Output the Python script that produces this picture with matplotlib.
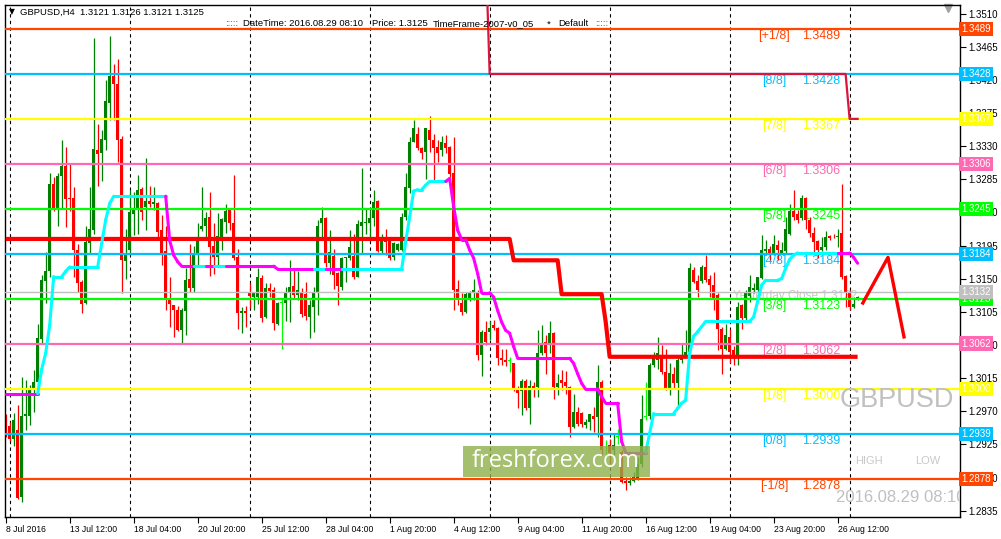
import matplotlib
matplotlib.use('Agg')
import matplotlib.pyplot as plt
import matplotlib.transforms as mtransforms
from matplotlib.collections import LineCollection
from matplotlib.patches import Rectangle
import numpy as np

# GBPUSD H4 candles, 8 Jul 2016 20:00 .. 29 Aug 2016 08:00
opens = [1.2960, 1.2950, 1.2932, 1.2944, 1.2853, 1.2963, 1.2963, 1.2999, 1.3010, 1.3068,
         1.3147, 1.3161, 1.3279, 1.3245, 1.3290, 1.3303, 1.3260, 1.3259, 1.3189, 1.3146,
         1.3117, 1.3198, 1.3216, 1.3325, 1.3320, 1.3338, 1.3389, 1.3425, 1.3414, 1.3340,
         1.3174, 1.3189, 1.3238, 1.3243, 1.3272, 1.3248, 1.3255, 1.3252, 1.3253, 1.3216,
         1.3187, 1.3121, 1.3114, 1.3108, 1.3081, 1.3106, 1.3149, 1.3137, 1.3182, 1.3217,
         1.3222, 1.3234, 1.3194, 1.3180, 1.3207, 1.3227, 1.3243, 1.3226, 1.3179, 1.3103,
         1.3106, 1.3132, 1.3125, 1.3125, 1.3151, 1.3098, 1.3138, 1.3135, 1.3088, 1.3117,
         1.3117, 1.3131, 1.3140, 1.3128, 1.3130, 1.3129, 1.3098, 1.3112, 1.3130, 1.3226,
         1.3232, 1.3172, 1.3181, 1.3158, 1.3139, 1.3178, 1.3178, 1.3181, 1.3153, 1.3221,
         1.3225, 1.3225, 1.3232, 1.3255, 1.3187, 1.3203, 1.3201, 1.3179, 1.3189, 1.3189,
         1.3234, 1.3273, 1.3335, 1.3347, 1.3327, 1.3322, 1.3352, 1.3339, 1.3329, 1.3325,
         1.3334, 1.3329, 1.3293, 1.3136, 1.3117, 1.3105, 1.3123, 1.3130, 1.3132, 1.3047,
         1.3077, 1.3077, 1.3087, 1.3083, 1.3043, 1.3040, 1.3038, 1.3035, 1.3000, 1.2998,
         1.3011, 1.2974, 1.3005, 1.3003, 1.3049, 1.3064, 1.3062, 1.3076, 1.3003, 1.3012,
         1.3010, 1.3003, 1.2949, 1.2969, 1.2968, 1.2951, 1.2956, 1.2963, 1.2962, 1.3010,
         1.2917, 1.2924, 1.2917, 1.2935, 1.2915, 1.2876, 1.2873, 1.2876, 1.2879, 1.2899,
         1.2962, 1.2963, 1.3033, 1.3040, 1.3047, 1.3024, 1.3002, 1.3020, 1.3009, 1.3039,
         1.3046, 1.3050, 1.3162, 1.3147, 1.3147, 1.3166, 1.3149, 1.3141, 1.3128, 1.3082,
         1.3055, 1.3071, 1.3053, 1.3046, 1.3114, 1.3096, 1.3126, 1.3135, 1.3135, 1.3151,
         1.3187, 1.3190, 1.3185, 1.3196, 1.3185, 1.3187, 1.3211, 1.3242, 1.3238, 1.3232,
         1.3259, 1.3230, 1.3212, 1.3201, 1.3189, 1.3193, 1.3208, 1.3207, 1.3206, 1.3212,
         1.3154, 1.3132, 1.3112, 1.3121]
highs = [1.2966, 1.2956, 1.2968, 1.2978, 1.3017, 1.3012, 1.3006, 1.3026, 1.3089, 1.3155,
         1.3186, 1.3293, 1.3288, 1.3293, 1.3338, 1.3329, 1.3306, 1.3274, 1.3197, 1.3148,
         1.3221, 1.3275, 1.3477, 1.3360, 1.3352, 1.3420, 1.3480, 1.3442, 1.3448, 1.3344,
         1.3218, 1.3270, 1.3268, 1.3291, 1.3275, 1.3314, 1.3276, 1.3275, 1.3254, 1.3236,
         1.3221, 1.3153, 1.3114, 1.3113, 1.3110, 1.3164, 1.3197, 1.3194, 1.3226, 1.3275,
         1.3240, 1.3268, 1.3226, 1.3239, 1.3232, 1.3252, 1.3245, 1.3291, 1.3190, 1.3112,
         1.3113, 1.3144, 1.3132, 1.3164, 1.3155, 1.3144, 1.3144, 1.3139, 1.3119, 1.3122,
         1.3139, 1.3176, 1.3164, 1.3161, 1.3137, 1.3146, 1.3121, 1.3139, 1.3230, 1.3247,
         1.3234, 1.3216, 1.3190, 1.3159, 1.3179, 1.3180, 1.3216, 1.3211, 1.3230, 1.3300,
         1.3244, 1.3243, 1.3270, 1.3257, 1.3211, 1.3217, 1.3205, 1.3200, 1.3199, 1.3239,
         1.3293, 1.3343, 1.3365, 1.3356, 1.3329, 1.3355, 1.3371, 1.3347, 1.3338, 1.3344,
         1.3345, 1.3330, 1.3343, 1.3148, 1.3130, 1.3132, 1.3134, 1.3149, 1.3135, 1.3080,
         1.3092, 1.3092, 1.3094, 1.3085, 1.3055, 1.3055, 1.3044, 1.3036, 1.3005, 1.3014,
         1.3014, 1.3012, 1.3010, 1.3080, 1.3087, 1.3073, 1.3092, 1.3078, 1.3021, 1.3026,
         1.3025, 1.3005, 1.2994, 1.2976, 1.2969, 1.2960, 1.2967, 1.2976, 1.3033, 1.3012,
         1.2931, 1.2933, 1.2940, 1.2946, 1.2917, 1.2881, 1.2881, 1.2888, 1.2908, 1.2992,
         1.3010, 1.3035, 1.3050, 1.3071, 1.3060, 1.3055, 1.3035, 1.3030, 1.3044, 1.3062,
         1.3080, 1.3171, 1.3166, 1.3155, 1.3168, 1.3182, 1.3155, 1.3159, 1.3130, 1.3085,
         1.3089, 1.3082, 1.3058, 1.3119, 1.3116, 1.3135, 1.3155, 1.3144, 1.3153, 1.3209,
         1.3202, 1.3194, 1.3209, 1.3202, 1.3200, 1.3234, 1.3252, 1.3271, 1.3243, 1.3264,
         1.3261, 1.3234, 1.3220, 1.3202, 1.3207, 1.3215, 1.3209, 1.3211, 1.3218, 1.3278,
         1.3155, 1.3135, 1.3125, 1.3126]
lows = [1.2935, 1.2930, 1.2923, 1.2851, 1.2847, 1.2944, 1.2951, 1.2969, 1.3004, 1.3062,
        1.3117, 1.3153, 1.3242, 1.3222, 1.3245, 1.3220, 1.3242, 1.3153, 1.3132, 1.3103,
        1.3116, 1.3184, 1.3211, 1.3276, 1.3282, 1.3325, 1.3365, 1.3365, 1.3309, 1.3130,
        1.3149, 1.3184, 1.3209, 1.3211, 1.3230, 1.3216, 1.3248, 1.3243, 1.3205, 1.3169,
        1.3107, 1.3085, 1.3071, 1.3079, 1.3062, 1.3073, 1.3132, 1.3132, 1.3166, 1.3215,
        1.3207, 1.3154, 1.3157, 1.3166, 1.3189, 1.3212, 1.3216, 1.3176, 1.3082, 1.3076,
        1.3085, 1.3110, 1.3107, 1.3116, 1.3091, 1.3096, 1.3125, 1.3080, 1.3087, 1.3055,
        1.3092, 1.3091, 1.3123, 1.3121, 1.3098, 1.3094, 1.3070, 1.3078, 1.3101, 1.3207,
        1.3166, 1.3157, 1.3136, 1.3114, 1.3135, 1.3146, 1.3175, 1.3149, 1.3152, 1.3184,
        1.3211, 1.3207, 1.3221, 1.3186, 1.3184, 1.3182, 1.3175, 1.3175, 1.3187, 1.3187,
        1.3230, 1.3267, 1.3335, 1.3325, 1.3313, 1.3286, 1.3322, 1.3284, 1.3309, 1.3316,
        1.3320, 1.3288, 1.3108, 1.3114, 1.3101, 1.3104, 1.3120, 1.3121, 1.3039, 1.3018,
        1.3060, 1.3067, 1.3080, 1.3033, 1.3033, 1.3031, 1.3024, 1.2998, 1.2974, 1.2965,
        1.2972, 1.2953, 1.2990, 1.2990, 1.3046, 1.3021, 1.3049, 1.2987, 1.2992, 1.2999,
        1.2994, 1.2935, 1.2947, 1.2950, 1.2949, 1.2947, 1.2944, 1.2942, 1.2935, 1.2910,
        1.2904, 1.2899, 1.2910, 1.2925, 1.2872, 1.2863, 1.2870, 1.2874, 1.2877, 1.2895,
        1.2958, 1.2960, 1.3030, 1.3028, 1.3021, 1.2999, 1.2992, 1.3001, 1.2974, 1.3035,
        1.3044, 1.3049, 1.3144, 1.3125, 1.3144, 1.3146, 1.3125, 1.3107, 1.3053, 1.3020,
        1.3053, 1.3035, 1.3033, 1.3033, 1.3082, 1.3094, 1.3119, 1.3130, 1.3132, 1.3149,
        1.3182, 1.3175, 1.3182, 1.3175, 1.3184, 1.3184, 1.3209, 1.3230, 1.3225, 1.3230,
        1.3218, 1.3207, 1.3184, 1.3178, 1.3187, 1.3189, 1.3202, 1.3205, 1.3193, 1.3150,
        1.3112, 1.3107, 1.3110, 1.3121]
closes = [1.2951, 1.2933, 1.2958, 1.2852, 1.2963, 1.2966, 1.3000, 1.3010, 1.3069, 1.3148,
          1.3160, 1.3279, 1.3245, 1.3290, 1.3303, 1.3258, 1.3258, 1.3189, 1.3144, 1.3116,
          1.3200, 1.3218, 1.3326, 1.3319, 1.3340, 1.3391, 1.3425, 1.3415, 1.3338, 1.3175,
          1.3184, 1.3241, 1.3244, 1.3270, 1.3241, 1.3255, 1.3252, 1.3254, 1.3214, 1.3184,
          1.3121, 1.3116, 1.3107, 1.3081, 1.3108, 1.3148, 1.3137, 1.3182, 1.3206, 1.3222,
          1.3233, 1.3193, 1.3180, 1.3208, 1.3231, 1.3242, 1.3226, 1.3178, 1.3104, 1.3106,
          1.3104, 1.3126, 1.3130, 1.3153, 1.3097, 1.3137, 1.3134, 1.3090, 1.3117, 1.3117,
          1.3131, 1.3139, 1.3128, 1.3135, 1.3102, 1.3099, 1.3114, 1.3130, 1.3221, 1.3233,
          1.3172, 1.3186, 1.3155, 1.3140, 1.3178, 1.3179, 1.3193, 1.3153, 1.3224, 1.3227,
          1.3227, 1.3232, 1.3254, 1.3187, 1.3203, 1.3200, 1.3178, 1.3199, 1.3197, 1.3234,
          1.3274, 1.3336, 1.3355, 1.3327, 1.3321, 1.3354, 1.3338, 1.3327, 1.3321, 1.3336,
          1.3327, 1.3292, 1.3135, 1.3121, 1.3105, 1.3129, 1.3131, 1.3135, 1.3046, 1.3077,
          1.3064, 1.3083, 1.3083, 1.3043, 1.3039, 1.3037, 1.3038, 1.2999, 1.2995, 1.3011,
          1.2975, 1.3005, 1.3000, 1.3049, 1.3063, 1.3049, 1.3076, 1.3003, 1.3008, 1.3008,
          1.3005, 1.2949, 1.2969, 1.2953, 1.2953, 1.2956, 1.2966, 1.2960, 1.3010, 1.2917,
          1.2917, 1.2913, 1.2924, 1.2935, 1.2874, 1.2872, 1.2876, 1.2881, 1.2899, 1.2960,
          1.2962, 1.3033, 1.3042, 1.3049, 1.3024, 1.3001, 1.3022, 1.3009, 1.3039, 1.3046,
          1.3051, 1.3164, 1.3146, 1.3135, 1.3166, 1.3148, 1.3141, 1.3123, 1.3082, 1.3055,
          1.3073, 1.3051, 1.3046, 1.3112, 1.3096, 1.3130, 1.3139, 1.3138, 1.3152, 1.3189,
          1.3191, 1.3185, 1.3197, 1.3189, 1.3189, 1.3218, 1.3242, 1.3234, 1.3230, 1.3259,
          1.3230, 1.3212, 1.3200, 1.3189, 1.3193, 1.3207, 1.3205, 1.3206, 1.3208, 1.3153,
          1.3132, 1.3112, 1.3116, 1.3125]

# trend line (cyan up / magenta down), one value per bar
trend = ([1.2994] * 9 + [1.3027, 1.3049, 1.3087] + [1.3153] * 3 + [1.3160] + [1.3166] * 8
         + [1.3198, 1.3230, 1.3252] + [1.3262] * 14 + [1.3202, 1.3182, 1.3173] + [1.3167] * 24
         + [1.3163] * 32 + [1.3200, 1.3234, 1.3269, 1.3271, 1.3271, 1.3277] + [1.3282] * 5
         + [1.3286, 1.3248, 1.3216, 1.3203, 1.3203, 1.3189, 1.3178, 1.3157] + [1.3131] * 3
         + [1.3125, 1.3107, 1.3091, 1.3080, 1.3076, 1.3058] + [1.3042] * 14
         + [1.3035, 1.3021, 1.3008] + [1.3000] * 4 + [1.2990] + [1.2981] * 4 + [1.2929]
         + [1.2914] * 6 + [1.2940] + [1.2967] * 6
         + [1.2974, 1.2981, 1.2985, 1.3049, 1.3072, 1.3078, 1.3085] + [1.3092] * 12
         + [1.3098, 1.3119, 1.3141] + [1.3148] * 4 + [1.3150, 1.3164, 1.3176, 1.3182]
         + [1.3185] * 14 + [1.3179, 1.3171])
trend_down = [(0, 8), (41, 47), (51, 52), (56, 77), (81, 84), (111, 160), (209, 213)]

# thick red step line
pivot = [1.3204] * 127 + [1.3175] * 12 + [1.3129] * 11 + [1.3092] + [1.3044] * 63

# crimson line, bars 120..213
crimson_start = 120
crimson = [1.3600] + [1.3428] * 90 + [1.3367] * 3

# Murrey math levels
mm_names = ['[+1/8]', '[8/8]', '[7/8]', '[6/8]', '[5/8]', '[4/8]', '[3/8]', '[2/8]', '[1/8]', '[0/8]', '[-1/8]']
mm_levels = [1.3489, 1.3428, 1.3367, 1.3306, 1.3245, 1.3184, 1.3123, 1.3062, 1.3000, 1.2939, 1.2878]
mm_colors = ['#ff4500', '#00bfff', '#ffff00', '#ff69b4', '#00ff00', '#00bfff',
             '#00ff00', '#ff69b4', '#ffff00', '#00bfff', '#ff4500']
yesterday_close = 1.3132

week_bars = [1, 31, 61, 91, 121, 151, 181, 211]
tick_bars = list(range(0, 209, 16))
tick_labels = ['8 Jul 2016', '13 Jul 12:00', '18 Jul 04:00', '20 Jul 20:00', '25 Jul 12:00',
               '28 Jul 04:00', '1 Aug 20:00', '4 Aug 12:00', '9 Aug 04:00', '11 Aug 20:00',
               '16 Aug 12:00', '19 Aug 04:00', '23 Aug 20:00', '26 Aug 12:00']

# hand drawn forecast
zig_x = [214.3, 220.6, 224.6]
zig_y = [1.3117, 1.3179, 1.3071]

W, H = 1001, 539
fig = plt.figure(figsize=(W / 100, H / 100), dpi=100)
fig.patch.set_facecolor('white')
ax = fig.add_axes([5 / W, (H - 517) / H, 955 / W, 512 / H])
ax.set_xlim(-0.175, 238.6)
ax.set_ylim(1.28265, 1.35216)


def frac(px, py):
    return (px - 5) / 955, (517 - py) / 512


o = np.array(opens)
h = np.array(highs)
l = np.array(lows)
c = np.array(closes)
x = np.arange(len(o))

# separators
for b in week_bars:
    ax.axvline(b, color='black', lw=0.8, ls=(0, (3, 3)), zorder=1)

# murrey lines + labels
for name, lev, col in zip(mm_names, mm_levels, mm_colors):
    ax.axhline(lev, color=col, lw=1.6, zorder=3)
    ax.text(192.1, lev - 0.00099, name, color=col, fontsize=9, family='Liberation Sans',
            ha='center', va='center', zorder=1.5)
    ax.text(203.8, lev - 0.00099, '%.4f' % lev, color=col, fontsize=9, family='Liberation Sans',
            ha='center', va='center', zorder=1.5)
ax.axhline(yesterday_close, color='#c0c0c0', lw=1.0, zorder=2.9)
ax.text(213, yesterday_close - 0.0006, 'Yesterday Close 1.3132', color='#c8c8c8', fontsize=8.5,
        family='Liberation Sans', ha='right', va='center', zorder=1.5)

# candles
up = c > o
dn = c < o
dj = c == o
for mask, col in ((up, '#008000'), (dn, '#ff0000'), (dj, '#00ff00')):
    ax.vlines(x[mask], l[mask], h[mask], color=col, lw=0.9, zorder=2)
    bot = np.minimum(o, c)[mask]
    hgt = np.maximum(np.abs(c - o)[mask], 0.0001)
    ax.bar(x[mask], hgt, bottom=bot, width=0.75, color=col, lw=0, zorder=2)

# pivot red step line
ax.plot(np.arange(len(pivot)), pivot, color='#ff0000', lw=3.0, zorder=4, solid_capstyle='butt')

# trend line
down = np.zeros(len(trend), dtype=bool)
for a, b in trend_down:
    down[a:b + 1] = True
segs = [[(i - 1, trend[i - 1]), (i, trend[i])] for i in range(1, len(trend))]
cols = ['#ff00ff' if down[i] else '#00ffff' for i in range(1, len(trend))]
ax.add_collection(LineCollection(segs, colors=cols, linewidths=2.2, zorder=5, capstyle='round'))

# crimson line
ax.plot(np.arange(crimson_start, crimson_start + len(crimson)), crimson, color='#dc143c',
        lw=1.6, zorder=5)

# forecast
ax.plot(zig_x, zig_y, color='#ff0000', lw=2.4, zorder=6, clip_on=False)

# axes ticks
ax.yaxis.tick_right()
yt = [1.2835 + 0.0045 * k for k in range(16)]
ax.set_yticks(yt)
ax.set_yticklabels(['%.4f' % v for v in yt], family='Liberation Sans')
ax.tick_params(axis='y', direction='out', length=4, width=0.8, pad=2, labelsize=7)
ax.set_xticks(tick_bars)
ax.set_xticklabels(tick_labels, family='Liberation Sans', ha='left')
ax.tick_params(axis='x', direction='out', length=4, width=0.8, pad=2, labelsize=6.2)
for sp in ax.spines.values():
    sp.set_linewidth(1.0)

# price boxes on the right scale
blend = mtransforms.blended_transform_factory(ax.transAxes, ax.transData)
box_levels = mm_levels + [yesterday_close]
box_colors = mm_colors + ['#c0c0c0']
for lev, col in zip(box_levels, box_colors):
    ax.text(1.0015, lev, '%.4f' % lev, transform=blend, color='white', fontsize=7,
            family='Liberation Sans', ha='left', va='center', clip_on=False, zorder=10,
            bbox=dict(boxstyle='square,pad=0.22', fc=col, ec='none'))

# header
fig.text(9 / W, 1 - 12 / H, '\u25bc', fontsize=5.5, va='center', color='black')
fig.text(20 / W, 1 - 12 / H, 'GBPUSD,H4  1.3121 1.3126 1.3121 1.3125', fontsize=6.8,
         family='Liberation Sans', va='center', color='black')
fig.text(225 / W, 1 - 24 / H, ':::::', fontsize=6.8, family='Liberation Sans', va='center', color='#8040a0')
fig.text(243 / W, 1 - 24 / H, 'DateTime: 2016.08.29 08:10', fontsize=6.8, family='Liberation Sans',
         va='center', color='black')
fig.text(372 / W, 1 - 24 / H, 'Price: 1.3125', fontsize=6.8, family='Liberation Sans', va='center', color='black')
fig.text(433 / W, 1 - 24 / H, 'TimeFrame-2007-v0_05', fontsize=6.8, family='Liberation Sans',
         va='center', color='black')
fig.text(547 / W, 1 - 24 / H, '*', fontsize=6.8, family='Liberation Sans', va='center', color='black')
fig.text(558 / W, 1 - 24 / H, 'Default', fontsize=6.8, family='Liberation Sans', va='center', color='black')
fig.text(595 / W, 1 - 24 / H, ':::::', fontsize=6.8, family='Liberation Sans', va='center', color='#8040a0')
ax.plot([0.987], [0.994], marker='v', color='#a0a0a0', ms=6, transform=ax.transAxes, clip_on=False)

# info texts
fx, fy = frac(840, 400)
ax.text(fx, fy, 'GBPUSD', transform=ax.transAxes, color='#c0c0c0', fontsize=19.5,
        family='Liberation Sans', ha='left', va='center', zorder=7)
fx, fy = frac(855, 461)
ax.text(fx, fy, 'HIGH', transform=ax.transAxes, color='#c8c8c8', fontsize=8,
        family='Liberation Sans', ha='left', va='center', zorder=7)
fx, fy = frac(915, 461)
ax.text(fx, fy, 'LOW', transform=ax.transAxes, color='#c8c8c8', fontsize=8,
        family='Liberation Sans', ha='left', va='center', zorder=7)
fx, fy = frac(836, 497)
ax.text(fx, fy, '2016.08.29 08:10', transform=ax.transAxes, color='#c0c0c0', fontsize=12,
        family='Liberation Sans', ha='left', va='center', zorder=7, clip_on=True)

# watermark
fx, fy = frac(463, 477)
ax.add_patch(Rectangle((fx, fy), 187 / 955, 31 / 512, transform=ax.transAxes,
                       fc='#8db04a', ec='none', alpha=0.8, zorder=8))
fx, fy = frac(556, 461)
ax.text(fx, fy, 'freshforex.com', transform=ax.transAxes, color='white', fontsize=17,
        family='Open Sans', ha='center', va='center', zorder=9)

fig.savefig('out.png', dpi=100)
